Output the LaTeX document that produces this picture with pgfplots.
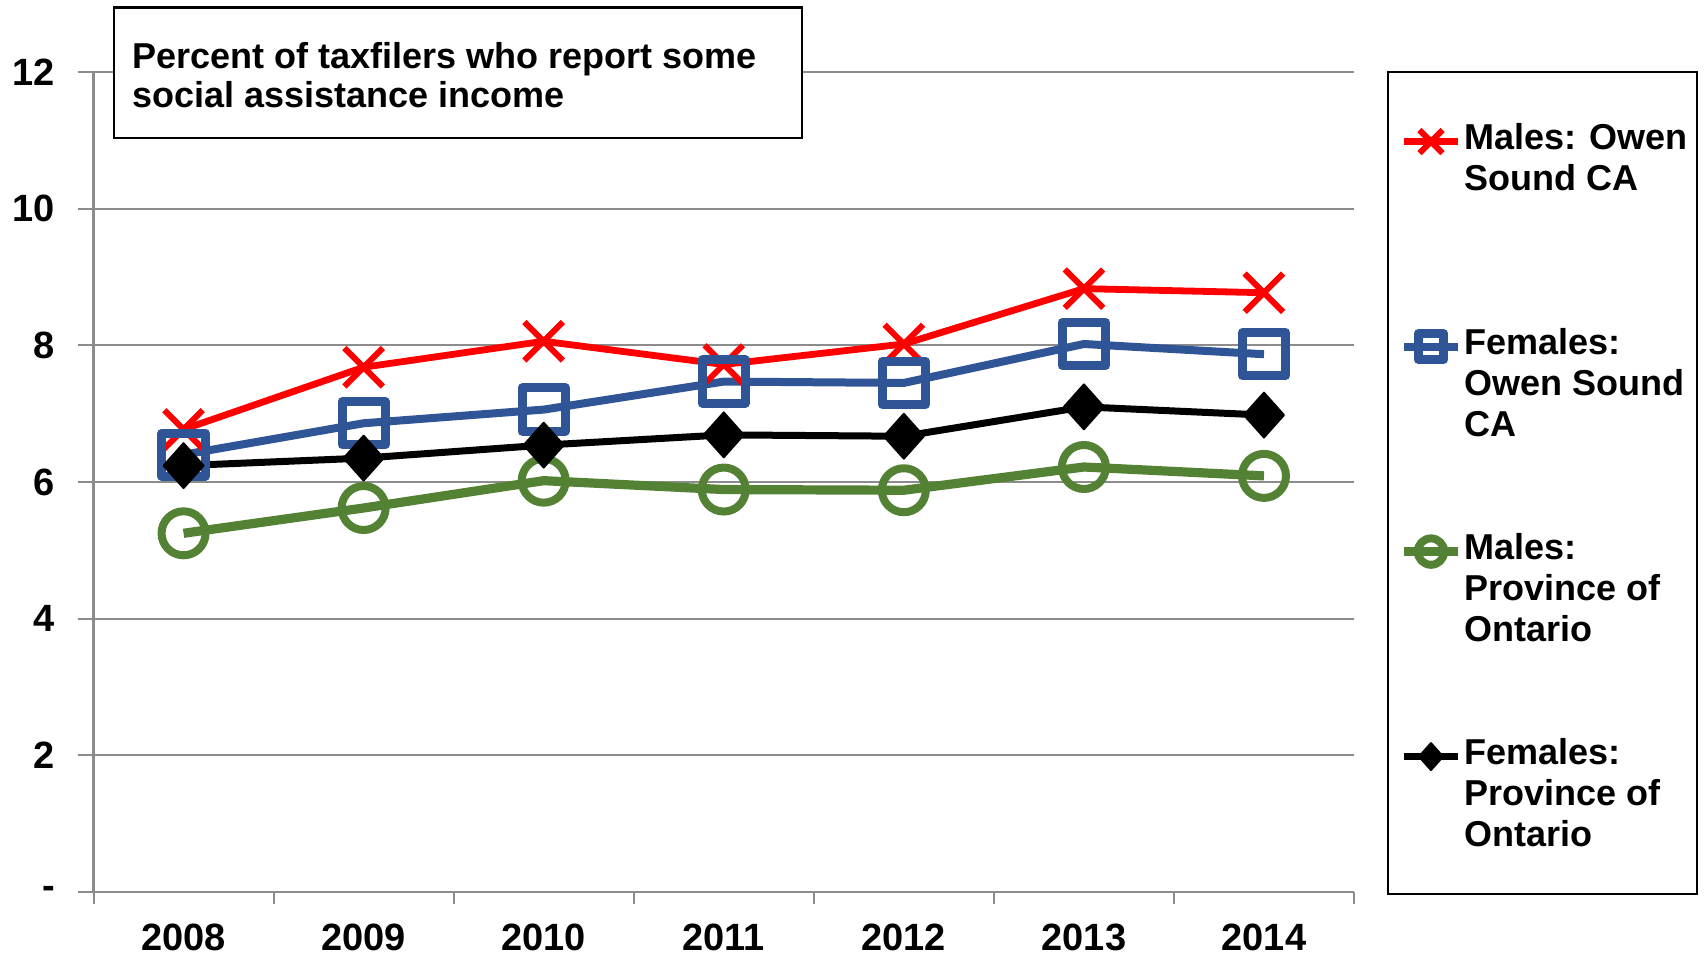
\documentclass[border=0pt]{standalone}
\usepackage{fontspec}
\setmainfont{Liberation Sans}
\usepackage{pgfplots}
\usepackage{pgfplotstable}
\pgfplotsset{compat=1.18}
\definecolor{ored}{HTML}{FF0000}
\definecolor{oblue}{HTML}{2F5597}
\definecolor{ogreen}{HTML}{548235}
\definecolor{ggrid}{HTML}{8C8C8C}

% x year  males OS  females OS  males ON  females ON
\pgfplotstableread{
x year mos  fos  mon  fon
0 2008 6.77 6.40 5.25 6.24
1 2009 7.68 6.86 5.62 6.35
2 2010 8.06 7.06 6.02 6.54
3 2011 7.72 7.47 5.89 6.69
4 2012 8.02 7.45 5.88 6.67
5 2013 8.83 8.02 6.22 7.10
6 2014 8.77 7.87 6.09 6.98
}\data

% one legend row holding text only (continuation lines and gaps)
\newcommand\lrow[1]{\addlegendimage{empty legend}\addlegendentry{#1}}

\begin{document}
\begin{tikzpicture}
\begin{axis}[
    scale only axis,
    width=315.1pt, height=205pt,
    xmin=-0.5, xmax=6.5, ymin=0, ymax=12,
    axis x line*=bottom, axis y line*=left,
    axis line style={ggrid, line width=0.6pt},
    xtick={0,...,6},
    xticklabels={2008,2009,2010,2011,2012,2013,2014},
    major x tick style={draw=none},
    minor xtick={-0.5,0.5,...,6.5},
    minor x tick style={ggrid, line width=0.5pt},
    minor tick length=3pt,
    ytick={0,2,...,12},
    yticklabels={-,2,4,6,8,10,12},
    major tick length=4pt,
    tick align=outside,
    y tick style={ggrid, line width=0.5pt},
    ymajorgrids,
    grid style={ggrid, line width=0.5pt},
    tick label style={font=\bfseries\fontsize{9.5}{11}\selectfont, text=black},
    yticklabel style={inner sep=0pt, xshift=-5.4pt},
    xticklabel style={inner sep=0pt, yshift=-3.8pt},
    clip=false,
    legend style={draw=none, fill=none, inner sep=0pt, outer sep=0pt,
        at={(rel axis cs:1.0360,0.9402)}, anchor=north west,
        font=\bfseries\fontsize{9}{10}\selectfont,
        nodes={inner sep=0pt, text height=7pt, text depth=3.25pt},
        column sep=0.5pt, row sep=0pt},
    legend cell align=left,
    legend image code/.code={
        \draw[mark repeat=2, mark phase=2, #1, every mark/.append style={scale=0.6}]
            plot coordinates {(0pt,0pt) (6.75pt,0pt) (13.5pt,0pt)};},
]
\addplot[ored, line width=1.7pt, line join=round, mark=x, mark size=6.8pt,
    mark options={line width=1.5pt}] table[x=x, y=mos] {\data};
\addlegendentry{Males: Owen}
\lrow{Sound CA}\lrow{~}\lrow{~}\lrow{~}
\addplot[oblue, line width=2pt, line join=round, mark=square, mark size=5.4pt,
    mark options={line width=2.25pt, line join=round}] table[x=x, y=fos] {\data};
\addlegendentry{Females:}
\lrow{Owen Sound}\lrow{CA}\lrow{~}\lrow{~}
\addplot[ogreen, line width=2.3pt, line join=round, mark=o, mark size=5.5pt,
    mark options={line width=2pt}] table[x=x, y=mon] {\data};
\addlegendentry{Males:}
\lrow{Province of}\lrow{Ontario}\lrow{~}\lrow{~}
\addplot[black, line width=1.75pt, line join=round, mark=diamond*, mark size=5.6pt,
    mark options={xscale=1.19, line width=0.5pt}] table[x=x, y=fon] {\data};
\addlegendentry{Females:}
\lrow{Province of}\lrow{Ontario}

% title box
\draw[black, line width=0.6pt, fill=white]
    (rel axis cs:0.0163,1.0785) rectangle (rel axis cs:0.5621,0.9195);
\node[anchor=base west, inner sep=0pt, font=\bfseries\fontsize{9}{10}\selectfont]
    at (rel axis cs:0.0301,1.0046) {Percent of taxfilers who report some};
\node[anchor=base west, inner sep=0pt, font=\bfseries\fontsize{9}{10}\selectfont]
    at (rel axis cs:0.0301,0.9571) {social assistance income};
% legend frame
\draw[black, line width=0.6pt]
    (rel axis cs:1.0268,1.0) rectangle (rel axis cs:1.2720,-0.0024);
% page size
\path (rel axis cs:-0.0742,-0.0756) rectangle (rel axis cs:1.2777,1.0878);
\end{axis}
\end{tikzpicture}
\end{document}
